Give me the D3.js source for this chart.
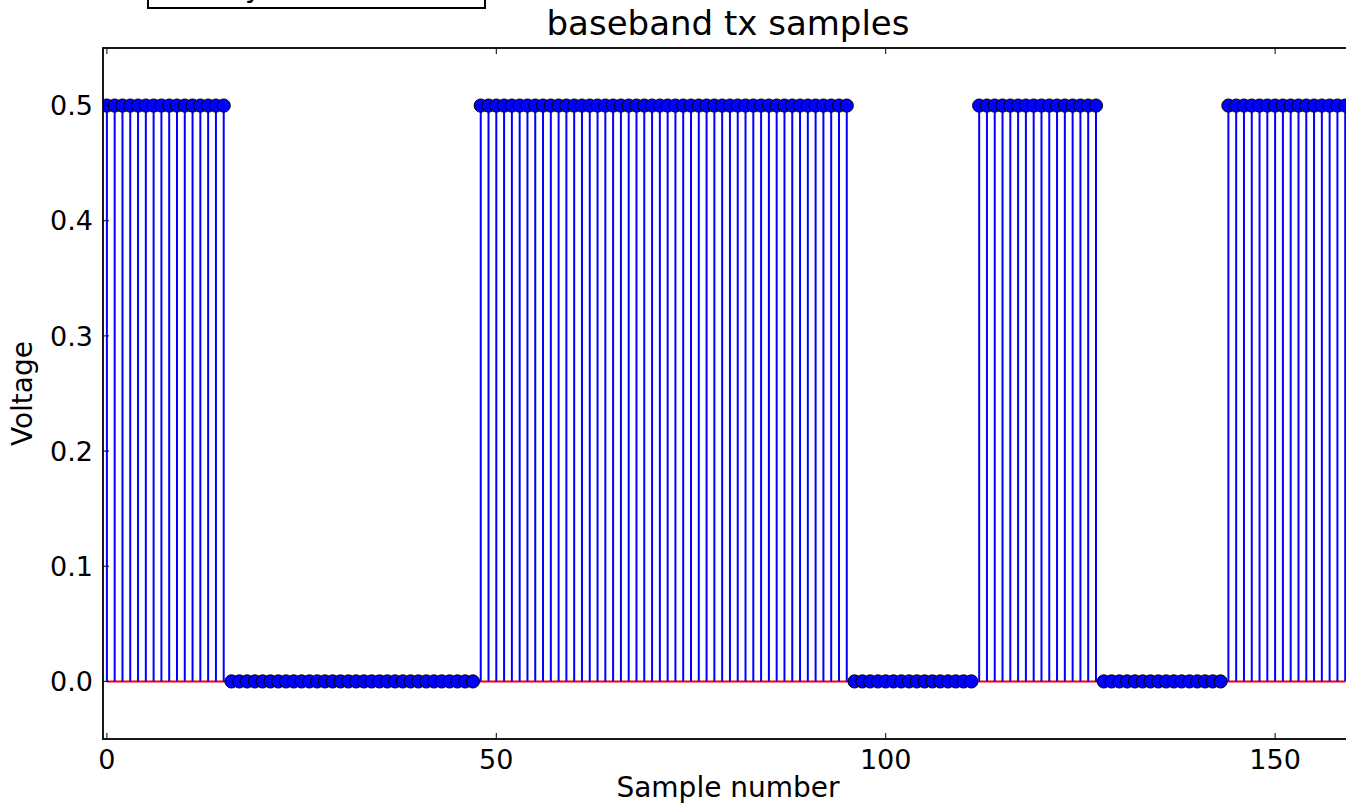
<!DOCTYPE html>
<html>
<head>
<meta charset="utf-8">
<script src="https://cdn.jsdelivr.net/npm/d3@7"></script>
<style>
  html, body { margin: 0; padding: 0; background: #fff; overflow: hidden; }
  text { font-family: "DejaVu Sans", sans-serif; fill: #000; }
</style>
</head>
<body>
<div id="chart"></div>
<script>
// data: the signal comes in runs of equal voltage
const runValues = [0.5, 0.0, 0.5, 0.0, 0.5, 0.0, 0.5],
  runLengths = [16, 32, 48, 16, 16, 16, 16],
  xTicks = [0, 50, 100, 150],
  yTicks = [0.0, 0.1, 0.2, 0.3, 0.4, 0.5];

// setting variables
const W = 1346, H = 805,
  plot = { left: 103, right: 1353, top: 48, bottom: 739 };

// sample list built from the runs
const samples = [];
runValues.forEach((v, i) => {
  for (let k = 0; k < runLengths[i]; k++) samples.push({ n: samples.length, v: v });
});

const x = d3.scaleLinear().domain([-0.5, 160]).range([plot.left, plot.right]);
const y = d3.scaleLinear().domain([-0.05, 0.55]).range([plot.bottom, plot.top]);

const svg = d3.select("#chart")
  .append("svg")
  .attr("width", W)
  .attr("height", H);

svg.append("defs").append("clipPath")
  .attr("id", "clip")
  .append("rect")
  .attr("x", plot.left)
  .attr("y", plot.top)
  .attr("width", plot.right - plot.left)
  .attr("height", plot.bottom - plot.top);

const area = svg.append("g").attr("clip-path", "url(#clip)");

// baseline
area.append("line")
  .attr("x1", x(0))
  .attr("x2", x(samples.length - 1))
  .attr("y1", y(0))
  .attr("y2", y(0))
  .attr("stroke", "#ff0000")
  .attr("stroke-width", 2);

// stems
area.selectAll(".stem")
  .data(samples.filter(d => d.v !== 0))
  .enter()
  .append("line")
  .attr("class", "stem")
  .attr("x1", d => x(d.n))
  .attr("x2", d => x(d.n))
  .attr("y1", y(0))
  .attr("y2", d => y(d.v))
  .attr("stroke", "#0000ff")
  .attr("stroke-width", 2);

// markers
area.selectAll(".marker")
  .data(samples)
  .enter()
  .append("circle")
  .attr("class", "marker")
  .attr("cx", d => x(d.n))
  .attr("cy", d => y(d.v))
  .attr("r", 6.6)
  .attr("fill", "#0000ff")
  .attr("stroke", "#000")
  .attr("stroke-width", 1);

// frame
svg.append("rect")
  .attr("x", plot.left)
  .attr("y", plot.top)
  .attr("width", plot.right - plot.left)
  .attr("height", plot.bottom - plot.top)
  .attr("fill", "none")
  .attr("stroke", "#000")
  .attr("stroke-width", 1.8);

// ticks (inside, all sides)
const tickLen = 6;
xTicks.forEach(t => {
  svg.append("line").attr("x1", x(t)).attr("x2", x(t))
    .attr("y1", plot.bottom).attr("y2", plot.bottom - tickLen)
    .attr("stroke", "#000").attr("stroke-width", 1);
  svg.append("line").attr("x1", x(t)).attr("x2", x(t))
    .attr("y1", plot.top).attr("y2", plot.top + tickLen)
    .attr("stroke", "#000").attr("stroke-width", 1);
  svg.append("text")
    .attr("x", x(t))
    .attr("y", 769)
    .attr("text-anchor", "middle")
    .attr("font-size", 27)
    .text(t);
});
yTicks.forEach(t => {
  svg.append("line").attr("x1", plot.left).attr("x2", plot.left + tickLen)
    .attr("y1", y(t)).attr("y2", y(t))
    .attr("stroke", "#000").attr("stroke-width", 1);
  svg.append("line").attr("x1", plot.right).attr("x2", plot.right - tickLen)
    .attr("y1", y(t)).attr("y2", y(t))
    .attr("stroke", "#000").attr("stroke-width", 1);
  svg.append("text")
    .attr("x", 93)
    .attr("y", y(t))
    .attr("dy", "0.36em")
    .attr("text-anchor", "end")
    .attr("font-size", 27)
    .text(t.toFixed(1));
});

// title and labels
svg.append("text")
  .attr("x", (plot.left + plot.right) / 2)
  .attr("y", 35)
  .attr("text-anchor", "middle")
  .attr("font-size", 34)
  .text("baseband tx samples");

svg.append("text")
  .attr("x", (plot.left + plot.right) / 2)
  .attr("y", 797)
  .attr("text-anchor", "middle")
  .attr("font-size", 28)
  .text("Sample number");

svg.append("text")
  .attr("transform", `translate(32, ${(plot.top + plot.bottom) / 2}) rotate(-90)`)
  .attr("text-anchor", "middle")
  .attr("font-size", 28)
  .text("Voltage");

// box cut off at the top left
svg.append("rect")
  .attr("x", 148)
  .attr("y", -40)
  .attr("width", 337)
  .attr("height", 48)
  .attr("fill", "none")
  .attr("stroke", "#000")
  .attr("stroke-width", 2);

svg.append("text")
  .attr("x", 245)
  .attr("y", -3)
  .attr("font-family", "DejaVu Sans")
  .attr("font-size", 28)
  .text("y");
</script>
</body>
</html>
